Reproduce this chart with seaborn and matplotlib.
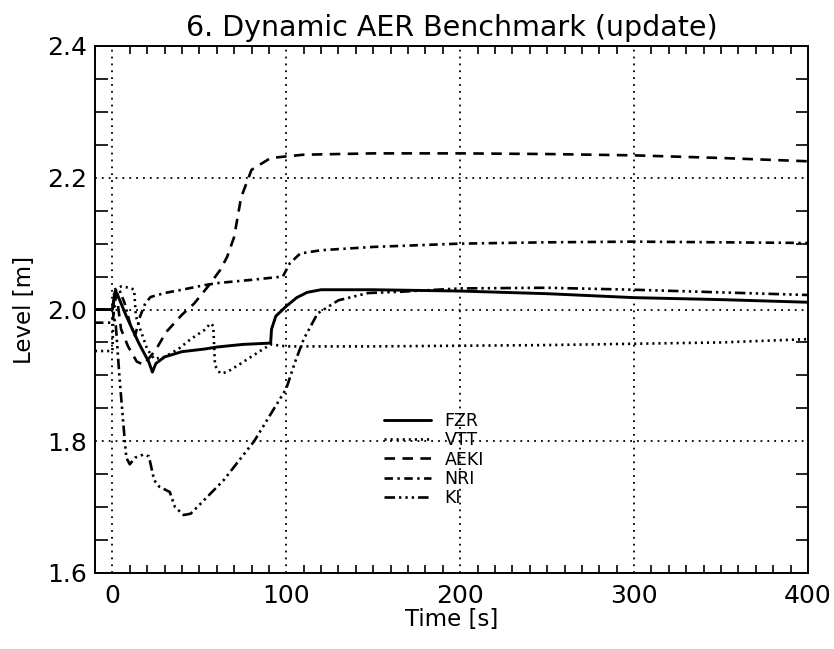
import matplotlib
matplotlib.use('Agg')
import matplotlib.pyplot as plt
import seaborn as sns
import pandas as pd
from matplotlib.ticker import MultipleLocator, FormatStrFormatter

sns.set_theme(style='ticks')
plt.rcParams['font.family'] = ['DejaVu Sans']
plt.rcParams['text.color'] = 'black'
plt.rcParams['axes.labelcolor'] = 'black'

# ---- data ----
fzr_t = [-10, 0, 1.5, 3, 8, 15, 21, 23, 25, 30, 40, 53, 60, 75, 91, 91.5, 94, 100, 106, 112, 120, 150, 200, 250, 300, 350, 400]
fzr_level = [2.0, 2.0, 2.027, 2.022, 1.99, 1.95, 1.92, 1.905, 1.918, 1.928, 1.936, 1.94, 1.943, 1.947, 1.949, 1.97, 1.99, 2.005, 2.018, 2.026, 2.03, 2.03, 2.028, 2.024, 2.018, 2.015, 2.011]

vtt_t = [-10, 0, 1, 5, 10, 12.5, 13.5, 16, 20, 24, 30, 38, 45, 53, 56.5, 58, 59, 62, 66, 75, 85, 91, 100, 150, 200, 250, 300, 350, 400]
vtt_level = [1.937, 1.937, 2.03, 2.035, 2.033, 2.03, 1.99, 1.97, 1.94, 1.925, 1.928, 1.94, 1.955, 1.969, 1.979, 1.975, 1.915, 1.903, 1.905, 1.92, 1.937, 1.947, 1.944, 1.944, 1.945, 1.946, 1.948, 1.95, 1.955]

aeki_t = [-10, 0, 2, 5, 9, 14, 18, 25, 31, 40, 47, 55, 62, 66, 70, 74, 80, 91, 110, 150, 200, 250, 300, 350, 400]
aeki_level = [2.0, 2.0, 2.03, 1.97, 1.944, 1.921, 1.916, 1.939, 1.966, 1.992, 2.009, 2.035, 2.06, 2.08, 2.11, 2.17, 2.212, 2.23, 2.235, 2.237, 2.237, 2.236, 2.234, 2.23, 2.225]

nri_t = [-10, 0, 2, 4, 7, 10, 13, 16, 19, 22, 30, 40, 53, 60, 80, 98, 102, 108, 120, 150, 200, 250, 300, 350, 400]
nri_level = [1.98, 1.98, 2.02, 2.03, 2.01, 1.98, 1.96, 1.99, 2.01, 2.019, 2.025, 2.03, 2.037, 2.04, 2.045, 2.05, 2.07, 2.085, 2.09, 2.095, 2.1, 2.102, 2.103, 2.102, 2.101]

ki_t = [-10, 0, 2, 4, 6.5, 8, 10, 13, 18, 21, 24, 27, 33, 36, 41, 45, 51, 64, 81.5, 100, 105, 110, 118, 130, 147, 166, 200, 250, 300, 350, 400]
ki_level = [2.0, 2.0, 1.975, 1.9, 1.82, 1.775, 1.765, 1.775, 1.78, 1.777, 1.741, 1.731, 1.723, 1.7, 1.688, 1.69, 1.706, 1.741, 1.8, 1.88, 1.92, 1.955, 1.994, 2.014, 2.025, 2.027, 2.032, 2.033, 2.03, 2.026, 2.022]

series_names = ["FZR", "VTT", "AEKI", "NRI", "KI"]

fig = plt.figure(figsize=(8.34, 6.49), dpi=100)
ax = fig.add_axes([95 / 834, 1 - 573 / 649, 713 / 834, 527 / 649])

styles = {
    "FZR": ('-', 2.1),
    "VTT": ((0, (0.8, 1.5)), 1.9),
    "AEKI": ((0, (4.0, 2.8)), 1.9),
    "NRI": ((0, (3.2, 1.7, 0.9, 1.7)), 1.9),
    "KI": ((0, (4.0, 1.5, 0.9, 1.5, 0.9, 1.5, 0.9, 1.5)), 1.9),
}
data = {
    "FZR": (fzr_t, fzr_level),
    "VTT": (vtt_t, vtt_level),
    "AEKI": (aeki_t, aeki_level),
    "NRI": (nri_t, nri_level),
    "KI": (ki_t, ki_level),
}

for name in series_names:
    t, lv = data[name]
    df = pd.DataFrame({"Time": t, "Level": lv})
    ls, lw = styles[name]
    sns.lineplot(data=df, x="Time", y="Level", ax=ax, color="black",
                 linewidth=lw, label=name, sort=False, estimator=None)
    ax.lines[-1].set_linestyle(ls)

ax.set_xlim(-10, 400)
ax.set_ylim(1.6, 2.4)
ax.xaxis.set_major_locator(MultipleLocator(100))
ax.xaxis.set_minor_locator(MultipleLocator(10))
ax.yaxis.set_major_locator(MultipleLocator(0.2))
ax.yaxis.set_minor_locator(MultipleLocator(0.05))
ax.yaxis.set_major_formatter(FormatStrFormatter('%.1f'))

ax.tick_params(which='both', direction='in', top=True, right=True, color='black')
ax.tick_params(which='major', length=0, labelsize=18, labelcolor='black')
ax.tick_params(axis='x', which='major', pad=8)
ax.tick_params(axis='y', which='major', pad=6)
ax.tick_params(axis='x', which='minor', length=6, width=1.2)
ax.tick_params(axis='y', which='minor', length=9, width=1.2)
ax.grid(True, which='major', color='black', linestyle=(0, (1, 2.8)), linewidth=1.3)
for s in ax.spines.values():
    s.set_color('black')
    s.set_linewidth(1.4)

ax.set_title('6. Dynamic AER Benchmark (update)', fontsize=20.5, pad=7, color='black')
ax.set_xlabel('Time [s]', fontsize=16.5, labelpad=0, color='black')
ax.set_ylabel('Level [m]', fontsize=16.5, labelpad=8, color='black')

leg = ax.legend(loc='upper left', bbox_to_anchor=(0.405, 0.306), frameon=False,
                fontsize=12.5, handlelength=2.7, handletextpad=0.8,
                labelspacing=0.08, borderpad=0, borderaxespad=0,
                labelcolor='black')

fig.savefig('out.png', dpi=100, facecolor='white')
